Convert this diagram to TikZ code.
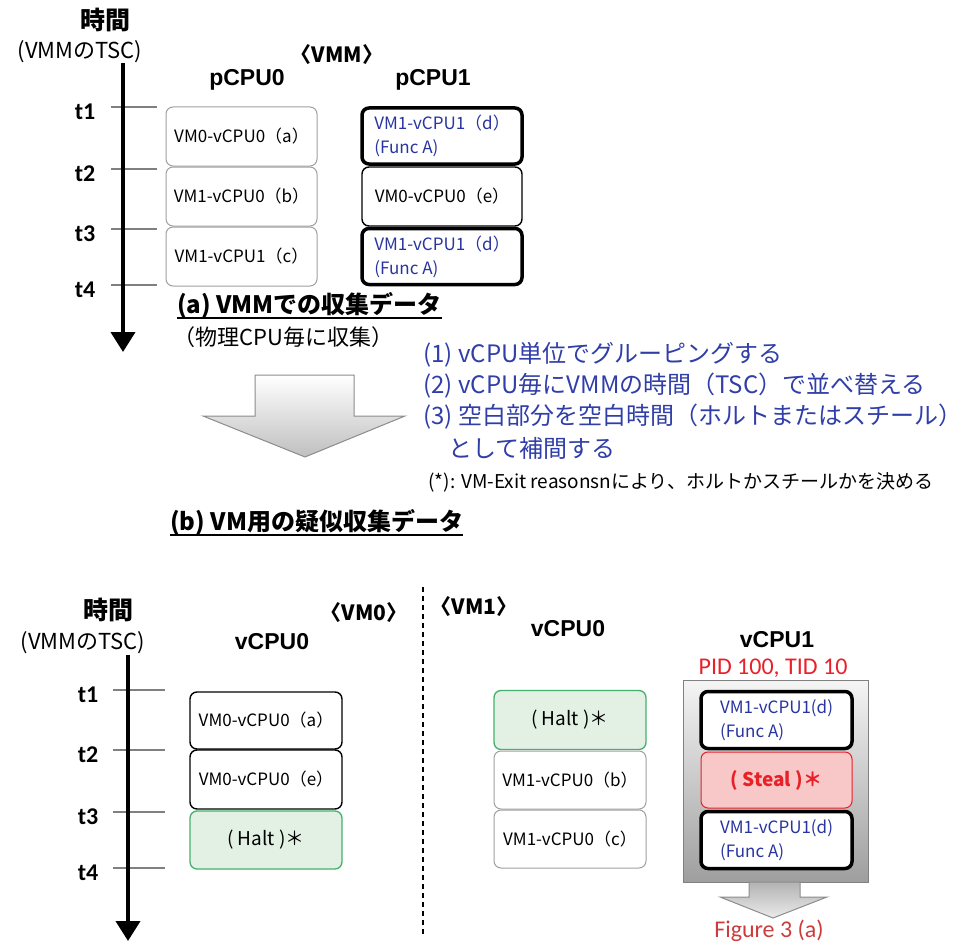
\documentclass[tikz,border=0pt]{standalone}
\usepackage{fontspec}
\setmainfont{Noto Sans CJK JP}
\newfontfamily\arialf{Liberation Sans}
\newfontfamily\calf{Carlito}
\usetikzlibrary{arrows.meta}
\definecolor{tblue}{RGB}{48,62,168}
\definecolor{bblue}{RGB}{40,52,160}
\definecolor{tred}{RGB}{232,32,40}
\definecolor{fred}{RGB}{205,60,60}
\definecolor{haltfill}{RGB}{226,241,228}
\definecolor{haltline}{RGB}{70,175,110}
\definecolor{stealfill}{RGB}{248,200,200}
\definecolor{tickgray}{RGB}{128,128,128}
\definecolor{boxgray}{RGB}{160,160,160}
\begin{document}
\begin{tikzpicture}[x=1pt,y=-1pt,
  cell/.style={rounded corners=7pt, inner sep=0pt, align=left, font=\fontsize{17}{24}\selectfont},
  graycell/.style={cell, draw=boxgray, line width=1pt, fill=white},
  blackcell/.style={cell, draw=black, line width=1.4pt, fill=white},
  thickcell/.style={cell, draw=black, line width=3.5pt, fill=white, text=bblue},
  haltcell/.style={cell, draw=haltline, line width=1.3pt, fill=haltfill, font=\fontsize{19}{22}\selectfont},
  stealcell/.style={cell, draw=tred, line width=1pt, fill=stealfill, text=tred, font=\fontsize{19}{22}\selectfont\bfseries},
  colhead/.style={font=\arialf\bfseries\fontsize{23}{26}\selectfont},
  vmhead/.style={font=\bfseries\fontsize{21}{24}\selectfont},
  tlabel/.style={font=\calf\bfseries\fontsize{24}{26}\selectfont},
  jtime/.style={font=\bfseries\fontsize{25}{28}\selectfont},
  jtsc/.style={font=\fontsize{22}{26}\selectfont},
  tick/.style={draw=tickgray, line width=1.5pt},
  axis/.style={line width=4pt, -{Triangle[width=24pt,length=20pt]}},
  heading/.style={anchor=base west, inner sep=0pt, font=\bfseries\fontsize{24}{28}\selectfont},
  uline/.style={line width=1.6pt},
  steptext/.style={anchor=west, text=tblue, font=\fontsize{24}{28}\selectfont},
  redtext/.style={font=\calf\fontsize{24}{28}\selectfont}
]
\useasboundingbox (0,0) rectangle (970,942);

% ================= top part (a) =================
\node[jtime] (tj1) at (105,20) {時間};
\node[jtsc] (ts1) at (80,52) {(VMMのTSC)};
\foreach \i/\y in {1/107,2/169,3/229,4/285}{
  \coordinate (ta\i) at (111,\y);
  \coordinate (tb\i) at (157,\y);
  \draw[tick] (ta\i) -- (tb\i);
  \node[tlabel] (tl\i) at (85,\y+5) {t\i};
}
\coordinate (ax1s) at (123,63);
\coordinate (ax1e) at (123,352);
\draw[axis] (ax1s) -- (ax1e);

\node[vmhead] (vmm) at (337,55) {〈VMM〉};
\node[colhead] (pc0) at (247,80) {pCPU0};
\node[colhead] (pc1) at (433,80) {pCPU1};

\node[graycell, minimum width=151pt, minimum height=59pt] (pa) at (241.5,136.5) {VM0-vCPU0（a）};
\node[graycell, minimum width=151pt, minimum height=59pt] (pb) at (241.5,196.5) {VM1-vCPU0（b）};
\node[graycell, minimum width=151pt, minimum height=59pt] (pc) at (241.5,256.5) {VM1-vCPU1（c）};

\node[thickcell, minimum width=160pt, minimum height=56pt] (pd1) at (442,136) {VM1-vCPU1（d）\\(Func A)};
\node[blackcell, minimum width=160pt, minimum height=59pt] (pe) at (442,196.5) {VM0-vCPU0（e）};
\node[thickcell, minimum width=160pt, minimum height=56pt] (pd2) at (442,256.5) {VM1-vCPU1（d）\\(Func A)};

\node[heading] (ha) at (177,313) {(a) VMMでの収集データ};
\draw[uline] ([yshift=-5pt]ha.base west) -- ([yshift=-5pt]ha.base east);
\node[anchor=west, font=\fontsize{22}{26}\selectfont] (hasub) at (170,337) {（物理CPU毎に収集）};

% big arrow
\shade[top color=white, bottom color=black!25, draw=black!45, line width=1pt]
  (255,375) -- (354,375) -- (354,416) -- (405,416) -- (305,457) -- (203,416) -- (255,416) -- cycle;

\node[steptext] (s1) at (420,355) {(1) vCPU単位でグルーピングする};
\node[steptext] (s2) at (420,386) {(2) vCPU毎にVMMの時間（TSC）で並べ替える};
\node[steptext] (s3) at (420,417) {(3) 空白部分を空白時間（ホルトまたはスチール）};
\node[steptext] (s4) at (445,448) {として補間する};
\node[anchor=west, font=\fontsize{19}{22}\selectfont] (note) at (425,482) {(*): VM-Exit reasonsnにより、ホルトかスチールかを決める};

% ================= bottom part (b) =================
\node[heading] (hb) at (170,530) {(b) VM用の疑似収集データ};
\draw[uline] ([yshift=-5pt]hb.base west) -- ([yshift=-5pt]hb.base east);

\node[jtime] (tj2) at (108,610) {時間};
\node[jtsc] (ts2) at (83,643) {(VMMのTSC)};
\foreach \i/\y in {1/690,2/750,3/812,4/868}{
  \coordinate (tc\i) at (113,\y);
  \coordinate (td\i) at (165,\y);
  \draw[tick] (tc\i) -- (td\i);
  \node[tlabel] (tm\i) at (88,\y+5) {t\i};
}
\coordinate (ax2s) at (128,655);
\coordinate (ax2e) at (128,941);
\draw[axis] (ax2s) -- (ax2e);

% dashed separator
\coordinate (ds) at (423,587);
\coordinate (de) at (423,935);
\draw[line width=1.2pt, dash pattern=on 5pt off 4pt] (ds) -- (de);

\node[vmhead] (vm0) at (364,613) {〈VM0〉};
\node[vmhead] (vm1) at (474,607) {〈VM1〉};
\node[colhead] (v0a) at (272,642) {vCPU0};
\node[colhead] (v0b) at (568,629) {vCPU0};
\node[colhead] (v1b) at (777,640) {vCPU1};
\node[redtext, text=tred] (pid) at (773,668) {PID 100, TID 10};

% VM0 vCPU0
\node[blackcell, minimum width=152pt, minimum height=57pt] (qa) at (266,720.5) {VM0-vCPU0（a）};
\node[blackcell, minimum width=152pt, minimum height=59pt] (qe) at (266,779.5) {VM0-vCPU0（e）};
\node[haltcell, minimum width=152pt, minimum height=58pt] (qh) at (266,840) {( Halt )＊};

% VM1 vCPU0
\node[haltcell, minimum width=152pt, minimum height=59pt] (rh) at (570,720) {( Halt )＊};
\node[graycell, minimum width=152pt, minimum height=58pt] (rb) at (570,780) {VM1-vCPU0（b）};
\node[graycell, minimum width=152pt, minimum height=58pt] (rc) at (570,839) {VM1-vCPU0（c）};

% VM1 vCPU1 container
\shade[top color=black!4, bottom color=black!38, draw=black!50, line width=1pt] (683,680) rectangle (868,882);
\shade[top color=black!30, bottom color=black!8, draw=black!45, line width=1pt]
  (749,882) -- (800,882) -- (800,897) -- (827,897) -- (773,918) -- (720,897) -- (749,897) -- cycle;
\node[thickcell, minimum width=151pt, minimum height=57pt] (ud1) at (776.5,720) {VM1-vCPU1(d)\\(Func A)};
\node[stealcell, minimum width=151pt, minimum height=56pt] (us) at (776.5,780) {( Steal )＊};
\node[thickcell, minimum width=151pt, minimum height=57pt] (ud2) at (776.5,840) {VM1-vCPU1(d)\\(Func A)};
\node[redtext, text=fred, anchor=base] (fig) at (769,937) {Figure 3 (a)};
\end{tikzpicture}
\end{document}
